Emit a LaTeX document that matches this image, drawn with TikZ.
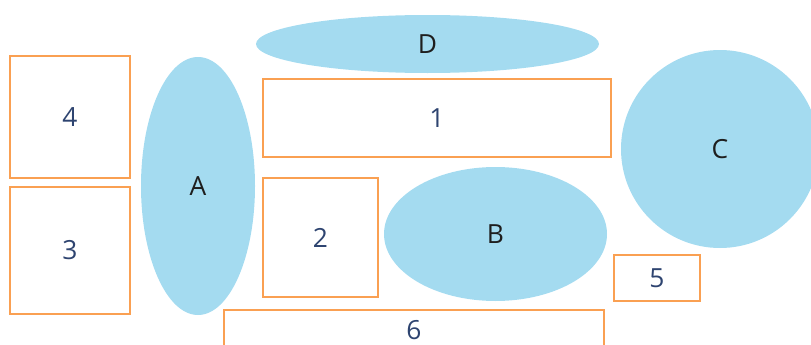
\documentclass[tikz,border=0pt]{standalone}
\usepackage{fontspec}
\setmainfont{Open Sans}
\usetikzlibrary{shapes.geometric}
\definecolor{boxorange}{RGB}{250,160,82}
\definecolor{blobblue}{RGB}{164,219,240}
\definecolor{numblue}{RGB}{46,68,112}
\definecolor{letterdark}{RGB}{30,30,30}

\begin{document}
\begin{tikzpicture}[
  slot/.style={draw=boxorange, line width=1.1pt, inner sep=0pt, text=numblue,
    font=\fontsize{15}{18}\selectfont},
  blob/.style={ellipse, fill=blobblue, inner sep=0pt, text=letterdark,
    font=\fontsize{15}{18}\selectfont}]
  \useasboundingbox (0,0) rectangle (16.22,-6.90);
  \clip (0,0) rectangle (16.22,-6.90);

  % Draw the ellipses and the circle
  \node[blob, minimum width=2.28cm, minimum height=5.16cm] (A) at (3.96,-3.72) {A};
  \node[blob, minimum width=6.86cm, minimum height=1.16cm] (D) at (8.55,-0.88) {D};
  \node[blob, minimum width=4.46cm, minimum height=2.68cm] (B) at (9.91,-4.68) {B};
  \node[blob, circle, minimum size=3.96cm] (C) at (14.40,-2.98) {C};

  % Draw the boxes
  \node[slot, minimum width=2.40cm, minimum height=2.44cm] (box4) at (1.40,-2.34) {4};
  \node[slot, minimum width=2.40cm, minimum height=2.54cm] (box3) at (1.40,-5.01) {3};
  \node[slot, minimum width=6.96cm, minimum height=1.56cm] (box1) at (8.74,-2.36) {1};
  \node[slot, minimum width=2.30cm, minimum height=2.38cm] (box2) at (6.41,-4.75) {2};
  \node[slot, minimum width=1.72cm, minimum height=0.92cm] (box5) at (13.14,-5.56) {5};
  \node[slot, minimum width=7.60cm, minimum height=0.80cm] (box6) at (8.28,-6.60) {6};

\end{tikzpicture}
\end{document}
